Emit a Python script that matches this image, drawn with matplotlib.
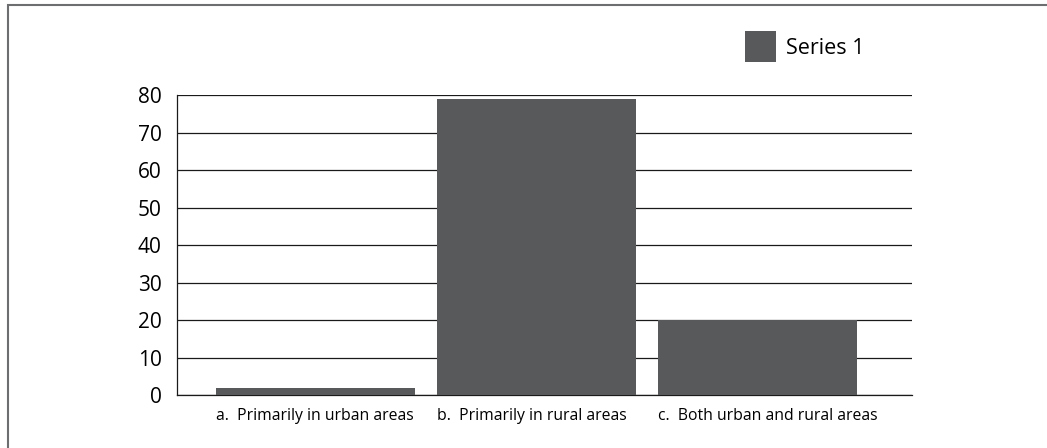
import matplotlib
matplotlib.use("Agg")
import matplotlib.pyplot as plt
from matplotlib.patches import Rectangle

categories = [
    "a.  Primarily in urban areas",
    "b.  Primarily in rural areas",
    "c.  Both urban and rural areas",
]
values = [2, 79, 20]
series_name = "Series 1"
y_ticks = [0, 10, 20, 30, 40, 50, 60, 70, 80]

bar_color = "#58595b"
plt.rcParams["font.family"] = ["Open Sans", "DejaVu Sans"]

fig = plt.figure(figsize=(10.47, 4.48), dpi=100)
ax = fig.add_axes([177 / 1047, 53 / 448, 735 / 1047, 300 / 448])

x = list(range(len(categories)))
width = 0.9
ax.bar(x, values, width=width, color=bar_color, zorder=3)

ax.set_ylim(0, 80)
ax.set_xlim(-0.627, 2.699)
ax.set_yticks(y_ticks)
ax.set_yticklabels([str(v) for v in y_ticks], fontsize=15)
ax.yaxis.grid(True, color="#1a1a1a", linewidth=0.9, zorder=0)
ax.set_axisbelow(True)

ax.set_xticks([xi - width / 2 for xi in x])
ax.set_xticklabels(categories, fontsize=11.3, ha="left")
ax.tick_params(axis="both", length=0)
ax.tick_params(axis="y", pad=11)
ax.tick_params(axis="x", pad=9)

for side in ("top", "right"):
    ax.spines[side].set_visible(False)
ax.spines["left"].set_color("#1a1a1a")
ax.spines["bottom"].set_color("#1a1a1a")
ax.spines["left"].set_linewidth(0.9)
ax.spines["bottom"].set_linewidth(0.9)

# legend drawn as a swatch and label in figure coordinates
fig.patches.append(Rectangle((745 / 1047, (448 - 62) / 448), 31 / 1047, 31 / 448,
                             transform=fig.transFigure, facecolor=bar_color,
                             edgecolor="none"))
fig.text(786 / 1047, (448 - 49) / 448, series_name, fontsize=15.5, va="center", ha="left")

# outer frame, open toward the right and bottom edges
fig.patches.append(Rectangle((8 / 1047, -0.1), 1.2, (448 - 5) / 448 + 0.1,
                             transform=fig.transFigure, facecolor="none",
                             edgecolor="#6d6e70", linewidth=1.5))

fig.savefig("out.png", dpi=100)
